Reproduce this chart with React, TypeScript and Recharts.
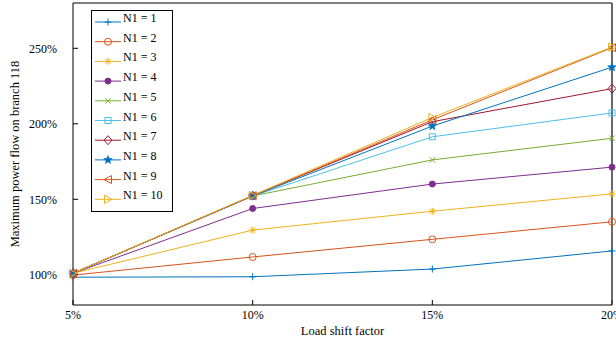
import React from 'react';
import { LineChart, Line, XAxis, YAxis, Legend, Label, ReferenceLine } from 'recharts';

const categories = ['5%', '10%', '15%', '20%'];

const n1 = [98.4, 98.7, 103.8, 115.8];
const n2 = [99.8, 111.8, 123.5, 135.1];
const n3 = [101, 129.6, 142.1, 153.6];
const n4 = [101, 143.9, 160.1, 171.3];
const n5 = [101, 152.2, 176.1, 190.4];
const n6 = [101, 152.2, 191.4, 207.2];
const n7 = [101, 152.4, 201.4, 223.3];
const n8 = [101, 152.2, 198.5, 237.5];
const n9 = [101, 152.4, 202.6, 250.4];
const n10 = [101, 152.6, 204.2, 250.8];

const yTicks = [100, 150, 200, 250];

const FONT = '"Liberation Serif", "Times New Roman", serif';

type MarkerKind = 'plus' | 'circle' | 'star' | 'dot' | 'cross' | 'square' | 'diamond' | 'pentagram' | 'left' | 'right';

const series: { key: string; name: string; values: number[]; color: string; marker: MarkerKind }[] = [
  { key: 'n1', name: 'N1 = 1', values: n1, color: '#0072BD', marker: 'plus' },
  { key: 'n2', name: 'N1 = 2', values: n2, color: '#D95319', marker: 'circle' },
  { key: 'n3', name: 'N1 = 3', values: n3, color: '#EDB120', marker: 'star' },
  { key: 'n4', name: 'N1 = 4', values: n4, color: '#7E2F8E', marker: 'dot' },
  { key: 'n5', name: 'N1 = 5', values: n5, color: '#77AC30', marker: 'cross' },
  { key: 'n6', name: 'N1 = 6', values: n6, color: '#4DBEEE', marker: 'square' },
  { key: 'n7', name: 'N1 = 7', values: n7, color: '#A2142F', marker: 'diamond' },
  { key: 'n8', name: 'N1 = 8', values: n8, color: '#0072BD', marker: 'pentagram' },
  { key: 'n9', name: 'N1 = 9', values: n9, color: '#D95319', marker: 'left' },
  { key: 'n10', name: 'N1 = 10', values: n10, color: '#EDB120', marker: 'right' },
];

const data = categories.map((x, i) => {
  const row: Record<string, number | string> = { x };
  series.forEach(s => { row[s.key] = s.values[i]; });
  return row;
});

function Marker({ kind, cx, cy, color }: { kind: MarkerKind; cx: number; cy: number; color: string }) {
  const r = 3.5;
  const sw = 1;
  switch (kind) {
    case 'plus':
      return (
        <g stroke={color} strokeWidth={sw}>
          <line x1={cx - r} y1={cy} x2={cx + r} y2={cy} />
          <line x1={cx} y1={cy - r} x2={cx} y2={cy + r} />
        </g>
      );
    case 'circle':
      return <circle cx={cx} cy={cy} r={r} fill="none" stroke={color} strokeWidth={sw} />;
    case 'star': {
      const d = r * 0.75;
      return (
        <g stroke={color} strokeWidth={sw}>
          <line x1={cx - r} y1={cy} x2={cx + r} y2={cy} />
          <line x1={cx} y1={cy - r} x2={cx} y2={cy + r} />
          <line x1={cx - d} y1={cy - d} x2={cx + d} y2={cy + d} />
          <line x1={cx - d} y1={cy + d} x2={cx + d} y2={cy - d} />
        </g>
      );
    }
    case 'dot':
      return <circle cx={cx} cy={cy} r={3} fill={color} stroke={color} strokeWidth={sw} />;
    case 'cross': {
      const d = r * 0.8;
      return (
        <g stroke={color} strokeWidth={sw}>
          <line x1={cx - d} y1={cy - d} x2={cx + d} y2={cy + d} />
          <line x1={cx - d} y1={cy + d} x2={cx + d} y2={cy - d} />
        </g>
      );
    }
    case 'square':
      return <rect x={cx - 3} y={cy - 3} width={6} height={6} fill="none" stroke={color} strokeWidth={sw} />;
    case 'diamond':
      return (
        <polygon
          points={`${cx},${cy - 4.5} ${cx + 4},${cy} ${cx},${cy + 4.5} ${cx - 4},${cy}`}
          fill="none"
          stroke={color}
          strokeWidth={sw}
        />
      );
    case 'pentagram': {
      const pts: string[] = [];
      for (let i = 0; i < 10; i++) {
        const rad = i % 2 === 0 ? 4.5 : 1.9;
        const a = -Math.PI / 2 + (i * Math.PI) / 5;
        pts.push(`${cx + rad * Math.cos(a)},${cy + rad * Math.sin(a)}`);
      }
      return <polygon points={pts.join(' ')} fill={color} stroke={color} strokeWidth={0.6} />;
    }
    case 'left':
      return (
        <polygon
          points={`${cx - 4},${cy} ${cx + 3.5},${cy - 4} ${cx + 3.5},${cy + 4}`}
          fill="none"
          stroke={color}
          strokeWidth={sw}
        />
      );
    case 'right':
      return (
        <polygon
          points={`${cx + 4},${cy} ${cx - 3.5},${cy - 4} ${cx - 3.5},${cy + 4}`}
          fill="none"
          stroke={color}
          strokeWidth={sw}
        />
      );
    default:
      return null;
  }
}

function makeDot(kind: MarkerKind, color: string) {
  return (props: any) => {
    const { cx, cy, index } = props;
    if (cx == null || cy == null) return <g key={index} />;
    return <Marker key={index} kind={kind} cx={cx} cy={cy} color={color} />;
  };
}

function LegendBox() {
  const rowH = 19.7;
  return (
    <svg width={82} height={202} style={{ display: 'block' }}>
      <rect x={0.5} y={0.5} width={81} height={201} fill="#fff" stroke="#000" strokeWidth={1} />
      {series.map((s, i) => {
        const y = 12 + i * rowH;
        return (
          <g key={s.key}>
            <line x1={4} y1={y} x2={30} y2={y} stroke={s.color} strokeWidth={1} />
            <Marker kind={s.marker} cx={17} cy={y} color={s.color} />
            <text x={32} y={y} fontFamily={FONT} fontSize={12} fill="#000">
              {s.name}
            </text>
          </g>
        );
      })}
    </svg>
  );
}

export default function App() {
  return (
    <div style={{ position: 'absolute', left: 0, top: 0, background: '#fff' }}>
      <LineChart
        width={616}
        height={343}
        data={data}
        margin={{ top: 2, right: 3, left: 0, bottom: 0 }}
      >
        <XAxis
          dataKey="x"
          height={38}
          axisLine={{ stroke: '#000' }}
          tickLine={{ stroke: '#000' }}
          tickSize={-5}
          tickMargin={10}
          interval={0}
          tick={{ fontFamily: FONT, fontSize: 12, fill: '#000' }}
        >
          <Label
            value="Load shift factor"
            position="center"
            dy={7}
            style={{ fontFamily: FONT, fontSize: 12.5, fill: '#000' }}
          />
        </XAxis>
        <XAxis
          xAxisId="top"
          dataKey="x"
          orientation="top"
          height={1}
          axisLine={{ stroke: '#000' }}
          tickLine={{ stroke: '#000' }}
          tickSize={-5}
          interval={0}
          tick={false}
        />
        <YAxis
          width={73}
          domain={[80, 280]}
          ticks={yTicks}
          type="number"
          allowDataOverflow
          axisLine={{ stroke: '#000' }}
          tickLine={{ stroke: '#000' }}
          tickSize={-5}
          tickMargin={21}
          tickFormatter={(v: number) => `${v}%`}
          tick={{ fontFamily: FONT, fontSize: 12, fill: '#000' }}
        >
          <Label
            value="Maximum power flow on branch 118"
            angle={-90}
            position="center"
            dx={-22}
            style={{ fontFamily: FONT, fontSize: 12.5, fill: '#000', textAnchor: 'middle' }}
          />
        </YAxis>
        <YAxis
          yAxisId="right"
          orientation="right"
          width={1}
          domain={[80, 280]}
          ticks={yTicks}
          type="number"
          axisLine={{ stroke: '#555' }}
          tickLine={{ stroke: '#000' }}
          tickSize={-5}
          tick={false}
        />
        <ReferenceLine x="20%" stroke="#555" strokeWidth={1.5} />
        <Legend
          layout="vertical"
          align="center"
          verticalAlign="middle"
          wrapperStyle={{ left: 91, top: 10, width: 82, height: 202 }}
          content={() => <LegendBox />}
        />
        {series.map(s => (
          <Line
            key={s.key}
            dataKey={s.key}
            name={s.name}
            stroke={s.color}
            strokeWidth={1}
            dot={makeDot(s.marker, s.color)}
            activeDot={false}
            isAnimationActive={false}
          />
        ))}
      </LineChart>
    </div>
  );
}
